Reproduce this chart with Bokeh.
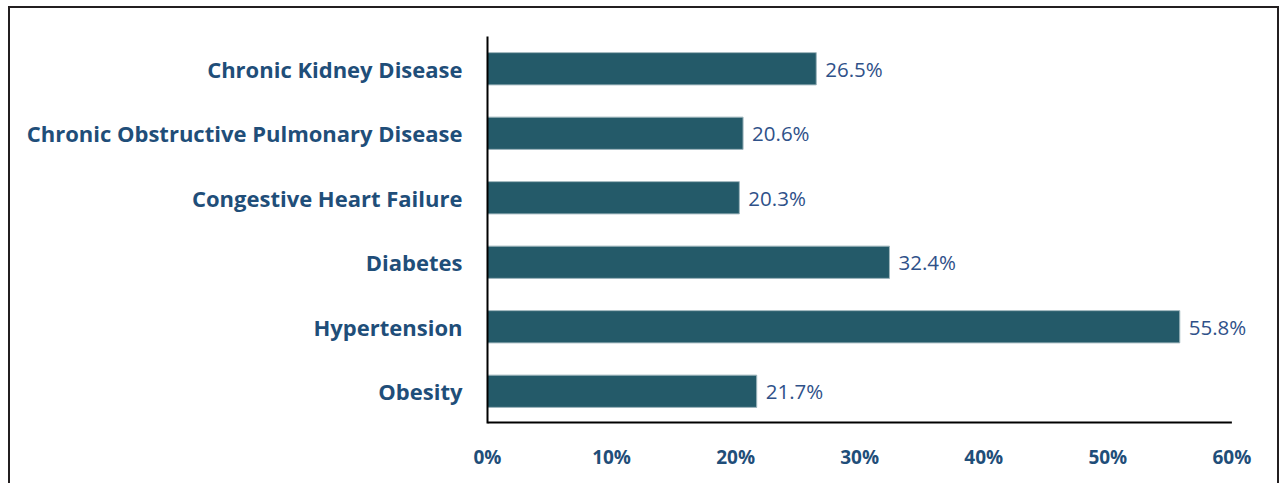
from bokeh.plotting import figure
from bokeh.models import ColumnDataSource, FixedTicker, CustomJSTickFormatter, LabelSet
from bokeh.core.properties import value
from bokeh.embed import file_html
from bokeh.resources import INLINE

categories = ["Chronic Kidney Disease", "Chronic Obstructive Pulmonary Disease",
              "Congestive Heart Failure", "Diabetes", "Hypertension", "Obesity"]
values = [26.5, 20.6, 20.3, 32.4, 55.8, 21.7]
ticks = [0, 10, 20, 30, 40, 50, 60]

y_order = list(reversed(categories))
src = ColumnDataSource(dict(cat=categories, val=values,
                            lab=[f"{v:.1f}%" for v in values]))

FONT = "Open Sans"

# x range extends past 60% so the value labels are not clipped;
# the bottom axis line is drawn only from 0 to 60.
p = figure(width=1271, height=480, y_range=y_order, x_range=(0, 64),
           output_backend="svg", toolbar_location=None,
           min_border_left=477, min_border_top=28, min_border_right=0,
           min_border_bottom=65, margin=(6, 0, 0, 8),
           styles={"border": "2px solid #231f20"})
p.outline_line_color = None
p.xgrid.visible = False
p.ygrid.visible = False

p.hbar(y="cat", right="val", left=0, height=0.5, source=src,
       fill_color="#245a69", line_color="#9fb6bd", line_width=1)
labels = LabelSet(x="val", y="cat", text="lab", source=src, x_offset=9,
                  text_align="left", text_baseline="middle",
                  text_font=value(FONT), text_font_size=value("20.5px"),
                  text_color=value("#2f5189"))
p.add_layout(labels)

# bottom axis line from 0% to 60%
p.segment(x0=[ticks[0]], x1=[ticks[-1]],
          y0=[(y_order[0], -0.5)], y1=[(y_order[0], -0.5)],
          line_color="#000000", line_width=4)

p.xaxis.ticker = FixedTicker(ticks=ticks)
p.xaxis.formatter = CustomJSTickFormatter(code="return tick + '%';")
for ax in (p.xaxis[0], p.yaxis[0]):
    ax.major_tick_line_color = None
    ax.minor_tick_line_color = None
    ax.axis_line_color = "#000000"
    ax.axis_line_width = 2
    ax.major_label_text_font = FONT
    ax.major_label_text_font_style = "bold"
    ax.major_label_text_color = "#1f4e79"
p.xaxis.axis_line_color = None
p.xaxis.major_label_text_font_size = "19px"
p.xaxis.major_label_standoff = 14
p.yaxis.major_label_text_font_size = "22px"
p.yaxis.major_label_standoff = 19

open("out.html", "w").write(file_html(p, INLINE))
